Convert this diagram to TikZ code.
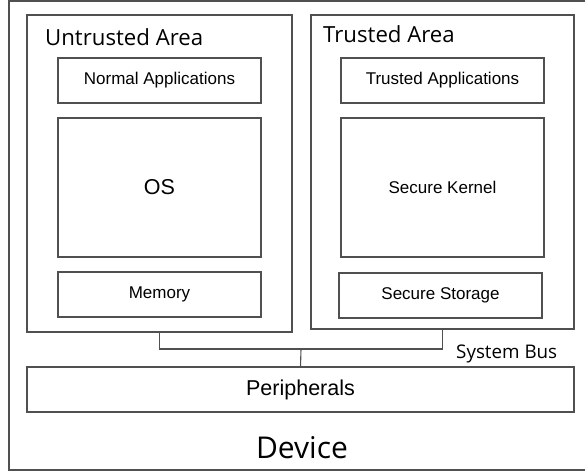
\documentclass[tikz,border=0pt]{standalone}
\usepackage{fontspec}
\setmainfont{Liberation Sans}
\newfontfamily\titlefont{Open Sans}
\definecolor{edge}{HTML}{505050}
\tikzset{
  box/.style={rectangle, draw=edge, line width=1.1pt, inner sep=0pt, outer sep=0pt,
              font=\fontsize{17}{20}\selectfont},
  smallbox/.style={box, minimum width=203pt, minimum height=45pt},
  title/.style={font=\titlefont\fontsize{22.2}{26}\selectfont, inner sep=0pt, anchor=base west},
  bus/.style={draw=edge, line width=1.1pt}
}
\begin{document}
\begin{tikzpicture}[x=1pt, y=-1pt]
            \useasboundingbox (0,0) rectangle (585,474);
            \clip (0,0) rectangle (585,474);

            % device frame
            \node at (304.5,235.5) [box, minimum width=591pt, minimum height=469pt] (device) {};
            \node at (302,458) [title, anchor=base, font=\titlefont\fontsize{30}{35}\selectfont] (devicelabel) {Device};

            % untrusted side
            \node at (159.5,173.5) [box, minimum width=265pt, minimum height=317pt] (untrusted) {};
            \node at (45,45) [title] (untrustedlabel) {Untrusted Area};
            \node at (159.5,80.5) [smallbox] (normalapps) {Normal Applications};
            \node at (159.5,187.5) [smallbox, minimum height=139pt, font=\fontsize{21.5}{25}\selectfont] (os) {OS};
            \node at (159.5,294.5) [smallbox] (memory) {Memory};

            % trusted side
            \node at (442.5,172) [box, minimum width=263pt, minimum height=314pt] (trusted) {};
            \node at (323,42) [title] (trustedlabel) {Trusted Area};
            \node at (442.5,80.5) [smallbox] (trustedapps) {Trusted Applications};
            \node at (442.5,187.5) [smallbox, minimum height=139pt] (kernel) {Secure Kernel};
            \node at (440.5,295.5) [smallbox] (storage) {Secure Storage};

            % peripherals and bus
            \node at (300.5,389.5) [box, minimum width=547pt, minimum height=45pt, font=\fontsize{21.5}{25}\selectfont] (peripherals) {Peripherals};
            \coordinate (bus) at (301,349);
            \node at (456,358) [title, font=\titlefont\fontsize{18.8}{22}\selectfont] (buslabel) {System Bus};

            \draw [bus] (untrusted.south) |- (bus) -| (trusted.south);
            \draw [bus] (bus) -- (peripherals.north);
        \end{tikzpicture}
\end{document}
